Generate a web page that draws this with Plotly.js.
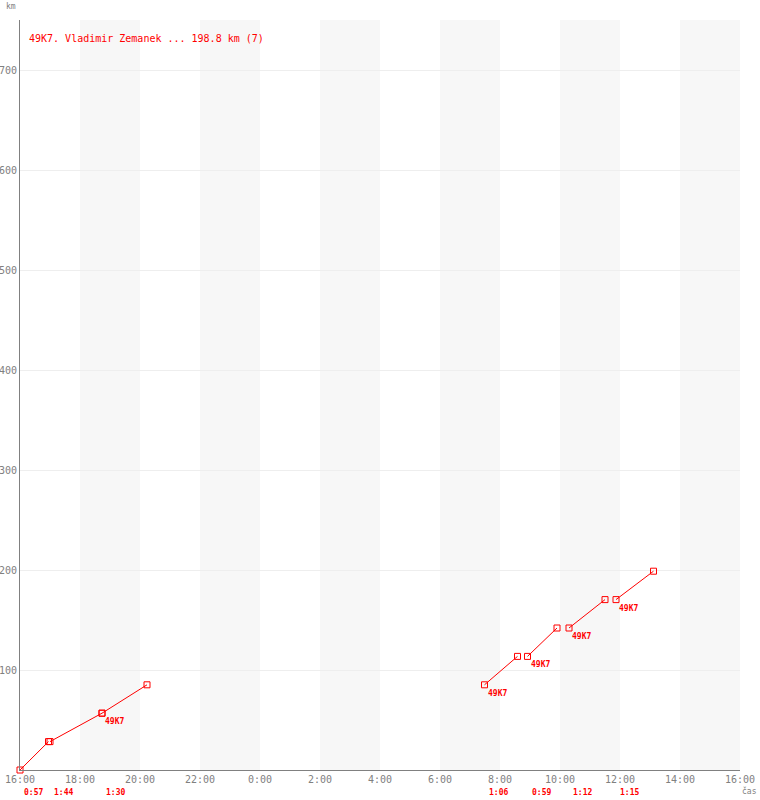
<!DOCTYPE html>
<html>
<head>
<meta charset="utf-8">
<script src="https://cdn.plot.ly/plotly-3.0.1.min.js"></script>
<style>
html,body{margin:0;padding:0;background:#fff}
#chart{width:760px;height:800px}
</style>
</head>
<body>
<div id="chart"></div>
<script>
// Legs: start/end time and cumulative km at start/end
const legStart = ['2024-01-01 16:00','2024-01-01 17:00','2024-01-01 18:44','2024-01-02 07:29','2024-01-02 08:55','2024-01-02 10:18','2024-01-02 11:52'];
const legEnd   = ['2024-01-01 16:57','2024-01-01 18:44','2024-01-01 20:14','2024-01-02 08:35','2024-01-02 09:54','2024-01-02 11:30','2024-01-02 13:07'];
const kmStart  = [0, 28.4, 56.8, 85.2, 113.6, 142.0, 170.4];
const kmEnd    = [28.4, 56.8, 85.2, 113.6, 142.0, 170.4, 198.8];
const durations = ['0:57','1:44','1:30','1:06','0:59','1:12','1:15'];
const pointLabels = ['', '', '49K7', '49K7', '49K7', '49K7', '49K7'];
const bandStarts = ['2024-01-01 18:00','2024-01-01 22:00','2024-01-02 02:00','2024-01-02 06:00','2024-01-02 10:00','2024-01-02 14:00'];
const bandEnds   = ['2024-01-01 20:00','2024-01-02 00:00','2024-01-02 04:00','2024-01-02 08:00','2024-01-02 12:00','2024-01-02 16:00'];
const yTicks = [100, 200, 300, 400, 500, 600, 700];
const titleText = '49K7. Vladimir Zemanek ... 198.8 km (7)';

const RED = '#ff0000';
const GRAY = '#808080';
const MONO = 'DejaVu Sans Mono, monospace';

const xs = [], ys = [];
for (let i = 0; i < legStart.length; i++) {
  xs.push(legStart[i], legEnd[i], null);
  ys.push(kmStart[i], kmEnd[i], null);
}

const trace = {
  x: xs, y: ys, type: 'scatter', mode: 'lines+markers',
  line: {color: RED, width: 1},
  marker: {symbol: 'square-open', size: 6, color: RED, line: {color: RED, width: 1}},
  hoverinfo: 'skip', connectgaps: false, showlegend: false, cliponaxis: false
};

const shapes = bandStarts.map((s, i) => ({
  type: 'rect', xref: 'x', yref: 'paper', x0: s, x1: bandEnds[i], y0: 0, y1: 1,
  fillcolor: '#f7f7f7', line: {width: 0}, layer: 'below'
}));

const annotations = [];
legStart.forEach((s, i) => {
  annotations.push({
    x: s, y: 0, xref: 'x', yref: 'paper', text: durations[i], showarrow: false,
    xanchor: 'left', yanchor: 'middle', xshift: 2, yshift: -22,
    font: {family: MONO, size: 8, color: RED, weight: 'bold'}
  });
  if (pointLabels[i]) {
    annotations.push({
      x: s, y: kmStart[i], xref: 'x', yref: 'y', text: pointLabels[i], showarrow: false,
      xanchor: 'left', yanchor: 'top', xshift: 1, yshift: -2,
      font: {family: MONO, size: 8, color: RED, weight: 'bold'}
    });
  }
});
annotations.push({
  x: 0, y: 1, xref: 'paper', yref: 'paper', text: titleText, showarrow: false,
  xanchor: 'left', yanchor: 'middle', xshift: 7, yshift: -18,
  font: {family: MONO, size: 10, color: RED}
});
annotations.push({
  x: 0, y: 1, xref: 'paper', yref: 'paper', text: 'km', showarrow: false,
  xanchor: 'left', yanchor: 'middle', xshift: -16, yshift: 14,
  font: {family: MONO, size: 8, color: GRAY}
});
annotations.push({
  x: 1, y: 0, xref: 'paper', yref: 'paper', text: 'čas', showarrow: false,
  xanchor: 'left', yanchor: 'middle', xshift: 0, yshift: -21,
  font: {family: MONO, size: 8, color: GRAY}
});

const layout = {
  width: 760, height: 800,
  margin: {l: 20, r: 20, t: 20, b: 30, pad: 0},
  paper_bgcolor: '#ffffff', plot_bgcolor: '#ffffff',
  showlegend: false,
  xaxis: {
    type: 'date', range: ['2024-01-01 16:00', '2024-01-02 16:00'],
    tick0: '2024-01-01 16:00', dtick: 2 * 3600 * 1000, tickformat: '%-H:%M',
    showgrid: false, zeroline: false, showline: true, linecolor: GRAY, linewidth: 1,
    ticks: '', tickfont: {family: MONO, size: 10, color: GRAY}, fixedrange: true
  },
  yaxis: {
    range: [0, 750], tickvals: yTicks, ticktext: yTicks.map(String),
    showgrid: true, gridcolor: '#eeeeee', gridwidth: 1, zeroline: false,
    showline: true, linecolor: GRAY, linewidth: 1,
    ticks: '', tickfont: {family: MONO, size: 10, color: GRAY}, fixedrange: true
  },
  shapes: shapes,
  annotations: annotations
};

Plotly.newPlot('chart', [trace], layout, {staticPlot: true, displayModeBar: false});
</script>
</body>
</html>
